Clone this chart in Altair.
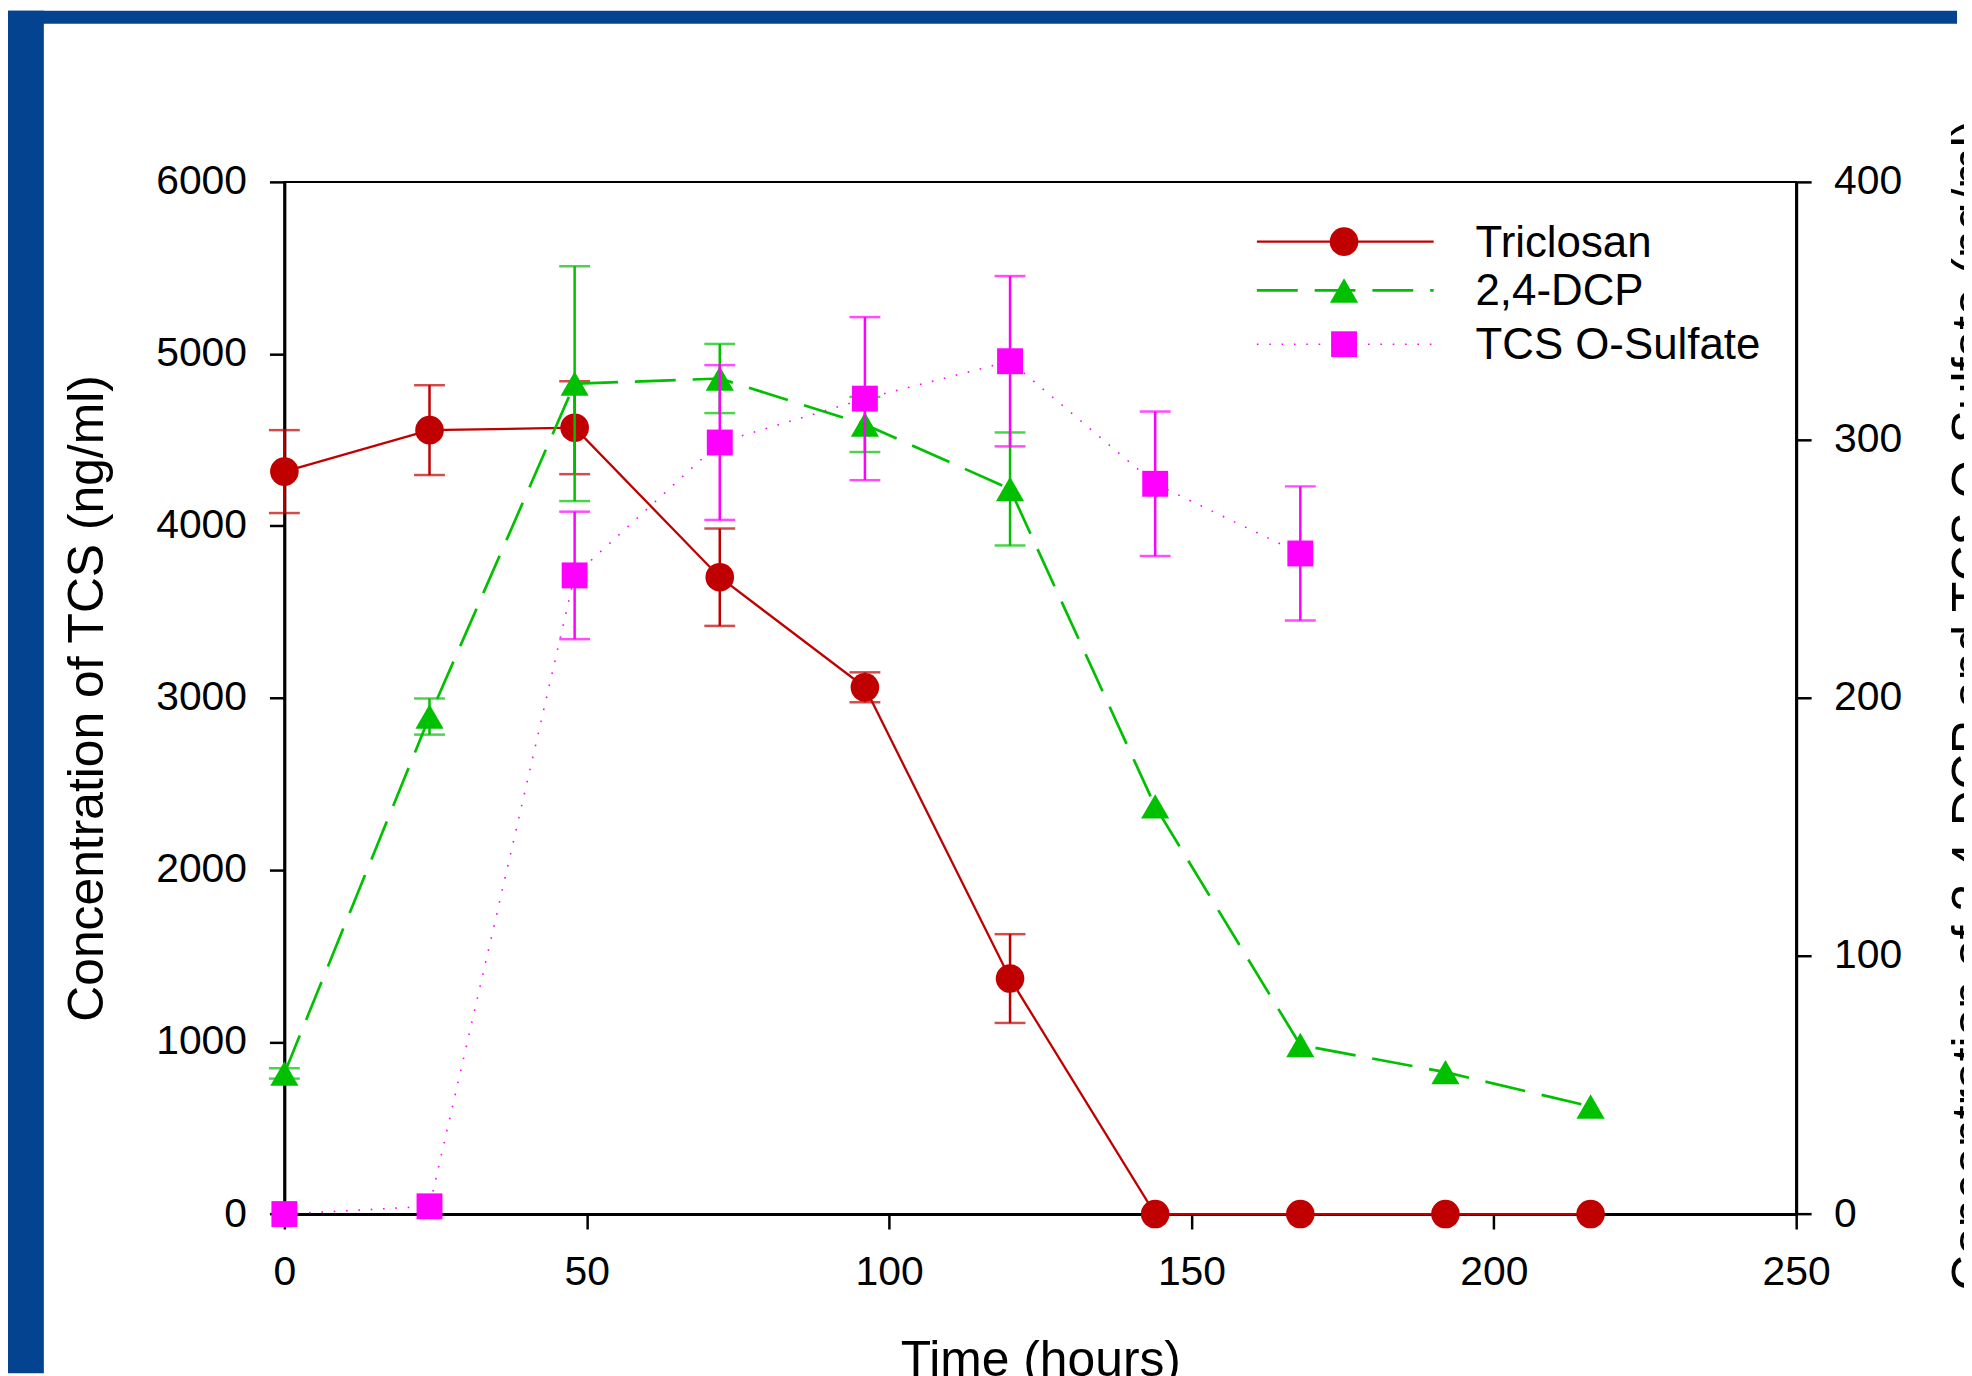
import altair as alt
import pandas as pd

# ---------------- data ----------------
time_h = [0, 24, 48, 72, 96, 120, 144, 168, 192, 216]
tcs = [4316, 4557, 4571, 3702, 3062, 1369, 0, 0, 0, 0]
tcs_err = [241, 261, 270, 283, 87, 258, 0, 0, 0, 0]

dcp = [54.5, 192.8, 321.8, 323.8, 306.0, 281.0, 158.0, 65.5, 55.0, 41.7]
dcp_err = [2.0, 7.0, 45.5, 13.4, 10.7, 21.9, 0, 0, 0, 0]

sulf_time = [0, 24, 48, 72, 96, 120, 144, 168]
sulf = [0, 3, 247.5, 299.0, 316.0, 330.5, 283.0, 256.0]
sulf_err = [0, 0, 24.7, 30.0, 31.6, 33.0, 28.0, 26.0]

series_names = ["Triclosan", "2,4-DCP", "TCS O-Sulfate"]
x_ticks = [0, 50, 100, 150, 200, 250]
left_ticks = [0, 1000, 2000, 3000, 4000, 5000, 6000]
right_ticks = [0, 100, 200, 300, 400]

# ---------------- layout / style ----------------
FONT = "Liberation Sans"
SVG_W, SVG_H = 1964, 1368
PAD_L, PAD_T = 277.5, 171.8
W, H = 1518, 1036.4
PAD_R = SVG_W - PAD_L - W
PAD_B = SVG_H - PAD_T - H
BLUE = "#03438F"
RED = "#C00000"
GREEN = "#00C000"
MAGENTA = "#FF00FF"
LABEL_SIZE = 41


def make_df(t, v, e):
    df = pd.DataFrame({"t": t, "v": v, "e": e})
    df["lo"] = df["v"] - df["e"]
    df["hi"] = df["v"] + df["e"]
    return df


common_axis = dict(
    grid=False, format="d", labelFlush=False, labelOverlap=False,
    tickSize=15, tickWidth=2.5, tickColor="black",
    domainColor="black", domainWidth=3,
    labelFont=FONT, labelFontSize=LABEL_SIZE, labelColor="black",
    titleFont=FONT, titleFontSize=50, titleFontWeight="normal", titleColor="black",
    titleBaseline="alphabetic",
)

xscale = alt.Scale(domain=[0, 250], nice=False, zero=False)
xaxis = alt.Axis(
    values=x_ticks, title="Time (hours)", labelPadding=24,
    titleX=W / 2, titleY=162, **common_axis,
)

lscale = alt.Scale(domain=[0, 6000], nice=False)
laxis = alt.Axis(
    orient="left", values=left_ticks, title="Concentration of TCS (ng/ml)", labelPadding=23,
    titleX=-182.5, titleY=H / 2, titleAngle=270, **common_axis,
)

rscale = alt.Scale(domain=[0, 400], nice=False)
raxis = alt.Axis(
    orient="right", values=right_ticks,
    title="Concentration of 2,4-DCP and TCS O-Sulfate (ng/ml)", labelPadding=22.5,
    titleX=191, titleY=525, titleAngle=270, **common_axis,
)


def series_layers(df, yscale, yaxis, color, line_kw, shape, size):
    x = alt.X("t:Q", scale=xscale, axis=xaxis)
    line = alt.Chart(df).mark_line(color=color, **line_kw).encode(
        x=x, y=alt.Y("v:Q", scale=yscale, axis=yaxis))
    eb = df[df["e"] > 0]
    rule = alt.Chart(eb).mark_rule(color=color, strokeWidth=2.5).encode(
        x=x, y=alt.Y("lo:Q", scale=yscale, axis=yaxis), y2="hi:Q")
    cap_lo = alt.Chart(eb).mark_tick(color=color, orient="horizontal", size=31, thickness=2.5).encode(
        x=x, y=alt.Y("lo:Q", scale=yscale, axis=yaxis))
    cap_hi = alt.Chart(eb).mark_tick(color=color, orient="horizontal", size=31, thickness=2.5).encode(
        x=x, y=alt.Y("hi:Q", scale=yscale, axis=yaxis))
    pts = alt.Chart(df).mark_point(shape=shape, filled=True, size=size, color=color, opacity=1).encode(
        x=x, y=alt.Y("v:Q", scale=yscale, axis=yaxis))
    return [line, rule, cap_lo, cap_hi, pts]


tcs_df = make_df(time_h, tcs, tcs_err)
dcp_df = make_df(time_h, dcp, dcp_err)
sulf_df = make_df(sulf_time, sulf, sulf_err)

line_styles = [
    dict(strokeWidth=2.3),
    dict(strokeWidth=2.7, strokeDash=[41, 17]),
    dict(strokeWidth=1.6, strokeDash=[1.6, 10.8]),
]
colors = [RED, GREEN, MAGENTA]
shapes = ["circle", "triangle-up", "square"]
sizes = [824, 800, 676]

left_group = alt.layer(*series_layers(tcs_df, lscale, laxis, RED, line_styles[0], "circle", 824))
right_group = alt.layer(
    *series_layers(dcp_df, rscale, raxis, GREEN, line_styles[1], "triangle-up", 800),
    *series_layers(sulf_df, rscale, raxis, MAGENTA, line_styles[2], "square", 676),
)

one = pd.DataFrame({"k": [0]})

# slide frame (blue bars at left and top)
frame = [
    alt.Chart(one).mark_rect(color=BLUE).encode(
        x=alt.value(-PAD_L), x2=alt.value(36 - PAD_L),
        y=alt.value(-PAD_T), y2=alt.value(SVG_H - PAD_T)),
    alt.Chart(one).mark_rect(color=BLUE).encode(
        x=alt.value(-PAD_L), x2=alt.value(1957 - PAD_L),
        y=alt.value(-PAD_T), y2=alt.value(13 - PAD_T)),
]

# legend
leg_rows_y = [60.0, 109.0, 163.0]
legend = []
for name, c, ls, shp, sz, yy in zip(series_names, colors, line_styles, shapes, sizes, leg_rows_y):
    legend.append(alt.Chart(one).mark_rule(color=c, **ls).encode(
        x=alt.value(976.5), x2=alt.value(1154.0), y=alt.value(yy)))
    legend.append(alt.Chart(one).mark_point(shape=shp, filled=True, size=sz, color=c, opacity=1).encode(
        x=alt.value(1064.0), y=alt.value(yy)))
    legend.append(alt.Chart(one).mark_text(
        align="left", baseline="middle", font=FONT, fontSize=44, color="black").encode(
        x=alt.value(1196.0), y=alt.value(yy + 2), text=alt.value(name)))

chart = alt.layer(
    *frame, left_group, right_group, *legend
).resolve_scale(y="independent").properties(
    width=W, height=H,
    autosize=alt.AutoSizeParams(type="none"),
    padding={"left": PAD_L, "top": PAD_T, "right": PAD_R, "bottom": PAD_B},
    background="white",
).configure_view(stroke="black", strokeWidth=2)

chart.save("out.html", embed_options={"renderer": "svg", "actions": False})
